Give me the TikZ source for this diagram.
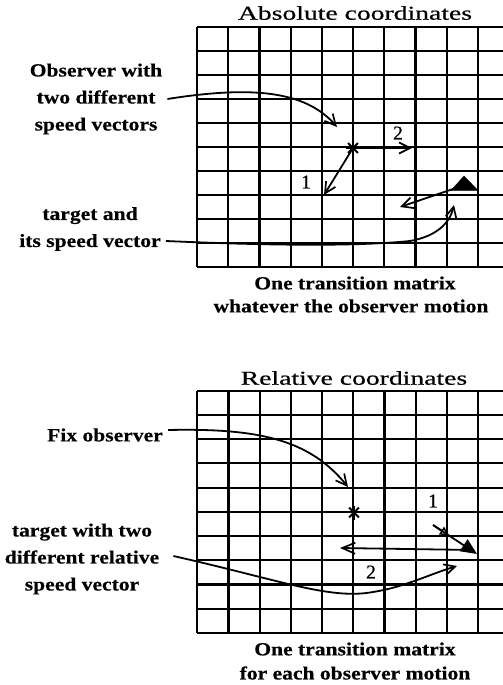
\documentclass[tikz,border=0pt]{standalone}
\usepackage{fontspec}
\setmainfont{Liberation Serif}
\newfontfamily\labfont[FakeStretch=1.16,FakeBold=0.4]{Liberation Serif}
\newfontfamily\ttlfont[FakeStretch=1.41,FakeBold=0.5]{Liberation Serif}
\newfontfamily\numfont[FakeBold=0.5]{Liberation Serif}
\usetikzlibrary{arrows.meta}
\tikzset{
  gridline/.style={line width=2.2pt},
  lab/.style={font=\labfont\bfseries\fontsize{18.6}{27}\selectfont, align=center, inner sep=0pt},
  ttl/.style={font=\ttlfont\fontsize{19.6}{24}\selectfont, inner sep=0pt},
  num/.style={font=\numfont\fontsize{19.6}{24}\selectfont, inner sep=0pt},
  conn/.style={line width=1.8pt},
  barb/.style={-{Straight Barb[length=11pt,width=11pt,line width=1.7pt]}},
  starline/.style={line width=1.9pt},
}
\begin{document}
\begin{tikzpicture}[x=1pt,y=-1pt]
\useasboundingbox (0,0) rectangle (503,685);
% ---------- top grid ----------
\foreach \i in {0,...,9} \draw[gridline] ({197+31.2*\i},27) -- ({197+31.2*\i},267.3);
\foreach \j in {0,...,10} \draw[gridline] (197,{27+24.03*\j}) -- (503,{27+24.03*\j});
% ---------- bottom grid ----------
\foreach \i in {0,...,9} \draw[gridline] ({197.3+31.2*\i},390.7) -- ({197.3+31.2*\i},633);
\foreach \j in {0,...,10} \draw[gridline] (197.3,{390.7+24.23*\j}) -- (503,{390.7+24.23*\j});

% ---------- top panel ----------
\node[ttl] (abs) at (355,13) {Absolute coordinates};
\node[lab] (obs) at (96,99) {Observer with\\two different\\speed vectors};
\node[lab] (tgt) at (90,229) {target and\\its speed vector};
\node[lab] (otm1) at (355,283) {One transition matrix};
\node[lab] (wtm) at (351,306) {whatever the observer motion};

\coordinate (s1) at (353,148);
\foreach \a in {0,45,90,135} \draw[starline] (s1) ++(\a:7) -- ++(\a+180:14);
\coordinate (v1a) at (324,195);
\coordinate (v2a) at (412,148);
\draw[conn,barb] (s1) -- (v1a);
\draw[conn,barb] (s1) -- (v2a);
\node[num] (n1a) at (306,182) {1};
\node[num] (n2a) at (398,133) {2};

\coordinate (tri) at (456,188);
\draw[fill=black] (451,190.5) -- (464,176) -- (478,190.5) -- cycle;
\coordinate (tva) at (400,207);
\draw[conn,barb] (tri) -- (tva);

\coordinate (obsend) at (337,127);
\draw[conn,barb] ([xshift=5pt]obs.east) .. controls (250,86) and (305,90) .. (obsend);
\coordinate (tgtend) at (454,205);
\draw[conn,barb] ([xshift=5pt,yshift=-12pt]tgt.east) .. controls (280,246) and (360,246) .. (410,241)
   .. controls (438,236) and (450,222) .. (tgtend);

% ---------- bottom panel ----------
\node[ttl] (rel) at (354,378) {Relative coordinates};
\node[lab] (fix) at (105,435) {Fix observer};
\node[lab] (tw2) at (82,559) {target with two\\different relative\\speed vector};
\node[lab] (otm2) at (355,649) {One transition matrix};
\node[lab] (fem) at (355,673) {for each observer motion};

\coordinate (s2) at (354,512.5);
\foreach \a in {0,45,90,135} \draw[starline] (s2) ++(\a:7) -- ++(\a+180:14);

\coordinate (v1s) at (433,525);
\coordinate (v1m) at (449,535.5);
\coordinate (v1b) at (477,554);
\draw[conn,-{Triangle[length=16pt,width=14pt]}] (v1s) -- (v1b);
\draw[conn,-{Triangle[open,length=9pt,width=9pt,line width=1.5pt]}] (v1s) -- (v1m);
\coordinate (v2s) at (474,550);
\coordinate (v2b) at (340,548);
\draw[conn,-{Straight Barb[length=13pt,width=11pt,line width=1.7pt]}] (v2s) -- (v2b);
\node[num] (n1b) at (433,501) {1};
\node[num] (n2b) at (371,572) {2};

\coordinate (fixend) at (348,487);
\draw[conn,barb] ([xshift=5pt,yshift=5pt]fix.east) .. controls (260,428) and (310,440) .. (fixend);
\coordinate (tw2end) at (457,566);
\draw[conn,barb] ([xshift=14pt,yshift=3pt]tw2.east) .. controls (280,580) and (330,600) .. (373,592)
   .. controls (405,587) and (430,574) .. (tw2end);
\end{tikzpicture}
\end{document}
